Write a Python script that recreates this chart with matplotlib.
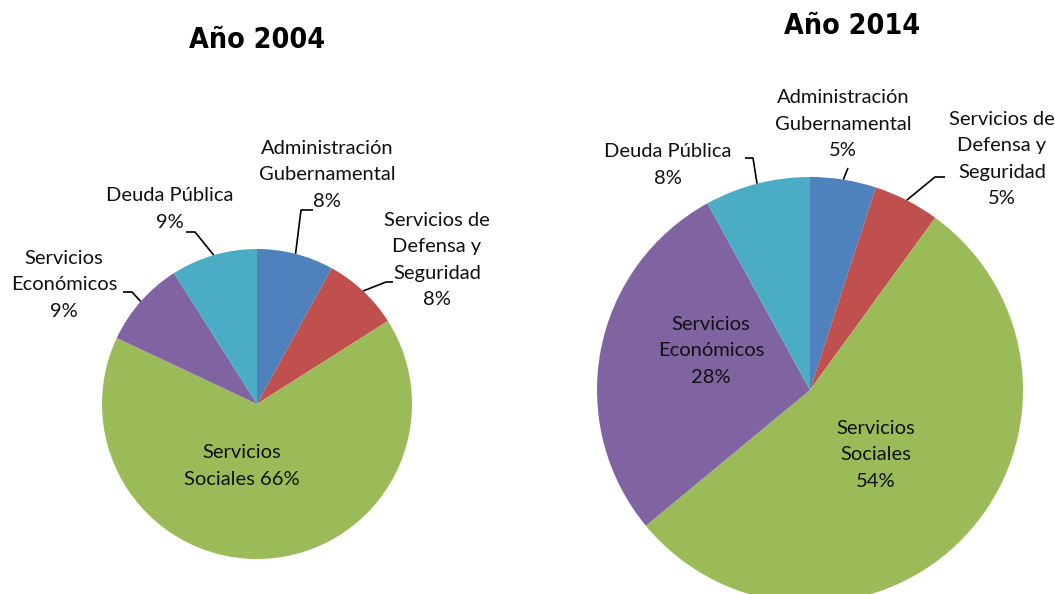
import numpy as np
import matplotlib
matplotlib.use("Agg")
import matplotlib.pyplot as plt

W, H = 1055, 594

# data
vals_2004 = [8, 8, 66, 9, 9]
vals_2014 = [5, 5, 54, 28, 8]
colors = ["#4F81BD", "#C0504D", "#9BBB59", "#8064A2", "#4BACC6"]

label_font = ["Lato", "DejaVu Sans"]

fig = plt.figure(figsize=(W / 100, H / 100), dpi=100)
ax = fig.add_axes([0, 0, 1, 1])


def py(y):
    return H - y


def draw_pie(vals, cx, cy, r, labels, title, title_xy):
    wedges, _ = ax.pie(vals, colors=colors, startangle=90, counterclock=False,
                       center=(cx, py(cy)), radius=r,
                       wedgeprops=dict(linewidth=0))
    ax.text(title_xy[0], py(title_xy[1]), title, ha="center", va="center",
            fontsize=20.5, fontweight="bold", family="DejaVu Sans",
            fontstretch="condensed")
    for w, (txt, pos, elbow) in zip(wedges, labels):
        ax.text(pos[0], py(pos[1]), txt, ha="center", va="center",
                fontsize=14.5, family=label_font, linespacing=1.66, color="#111111")
        if elbow is not None:
            ang = np.deg2rad((w.theta1 + w.theta2) / 2)
            sx, sy = cx + r * np.cos(ang), py(cy) + r * np.sin(ang)
            ex, ey, hx = elbow
            ax.plot([sx, ex, hx], [sy, py(ey), py(ey)], color="black", lw=1.2,
                    solid_capstyle="butt")


labels_2004 = [
    ("Administración\nGubernamental\n8%", (327, 175), (301, 210, 313)),
    ("Servicios de\nDefensa y\nSeguridad\n8%", (437, 260), (386, 282, 393)),
    ("Servicios\nSociales 66%", (242, 466), None),
    ("Servicios\nEconómicos\n9%", (64, 285), (132, 292, 123)),
    ("Deuda Pública\n9%", (170, 209), (195, 232, 186)),
]
labels_2014 = [
    ("Administración\nGubernamental\n5%", (843, 124), (848, 168, 848)),
    ("Servicios de\nDefensa y\nSeguridad\n5%", (1002, 159), (935, 177, 945)),
    ("Servicios\nSociales\n54%", (876, 455), None),
    ("Servicios\nEconómicos\n28%", (711, 351), None),
    ("Deuda Pública\n8%", (668, 165), (753, 158, 745)),
]

draw_pie(vals_2004, 257, 404, 155, labels_2004, "Año 2004", (257, 40))
draw_pie(vals_2014, 810, 390, 213, labels_2014, "Año 2014", (852, 26))

ax.set_xlim(0, W)
ax.set_ylim(0, H)
ax.set_aspect("equal")
ax.axis("off")

fig.savefig("out.png", dpi=100, facecolor="white")
